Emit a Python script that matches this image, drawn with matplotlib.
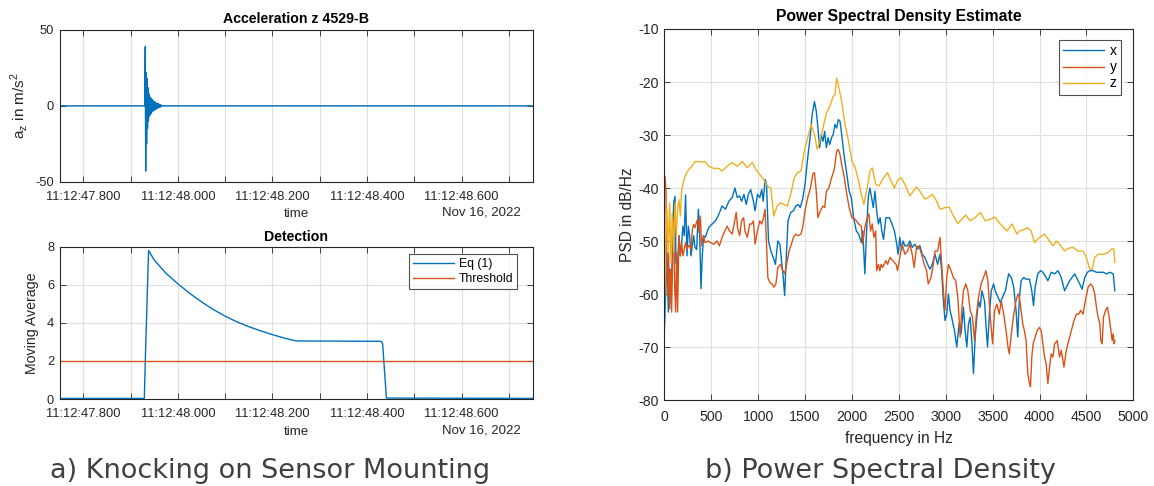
import numpy as np
import matplotlib
matplotlib.use('Agg')
import matplotlib.pyplot as plt
from matplotlib.ticker import FixedLocator

# ---- data -------------------------------------------------------------
# time axis (seconds after 11:12:00 on Nov 16, 2022)
t_start, t_end = 47.75, 48.75
time_ticks = [47.8, 47.9, 48.0, 48.1, 48.2, 48.3, 48.4, 48.5, 48.6, 48.7]

# z acceleration burst from the knock (m/s^2), sampled between 47.930 s and 47.966 s
burst_start, burst_end = 47.930, 47.966
burst_az = [0, 39, -43, 22, -25, 18, -15, 12, -10, 8, -7, 6, -6, 5, -5, 4.5, -4,
            4, -3.5, 3, -3, 3, -2.5, 2.5, -2, 2, -2, 1.5, -1.5, 1.5, -1.2, 1, -1,
            1, -0.8, 0.6, -0.5, 0.3, 0]

# moving average of Eq (1)
ma_time = [47.75, 47.929, 47.931, 47.938, 47.95, 47.975, 48.0, 48.025, 48.05,
           48.075, 48.1, 48.125, 48.15, 48.175, 48.2, 48.225, 48.25, 48.43,
           48.433, 48.441, 48.75]
ma_value = [0.03, 0.03, 2.0, 7.8, 7.3, 6.6, 6.05, 5.55, 5.1, 4.7, 4.35, 4.05,
            3.8, 3.58, 3.38, 3.2, 3.05, 3.03, 2.9, 0.05, 0.03]
threshold = 2.0

# PSD estimates (dB/Hz) for the three axes
freq_x = [0, 14, 28, 43, 57, 71, 85, 100, 114, 124, 139, 156, 171, 185, 199, 213,
          227, 242, 256, 270, 284, 299, 313, 327, 345, 363, 377, 391, 405, 419,
          437, 473, 509, 545, 581, 616, 652, 688, 724, 753, 778, 803, 824, 849,
          874, 896, 921, 950, 968, 993, 1018, 1039, 1054, 1075, 1090, 1111, 1136,
          1161, 1185, 1210, 1232, 1246, 1268, 1283, 1297, 1319, 1348, 1377, 1402,
          1428, 1449, 1475, 1500, 1529, 1558, 1576, 1601, 1620, 1638, 1656, 1674,
          1692, 1710, 1728, 1746, 1764, 1783, 1801, 1819, 1837, 1855, 1873, 1891,
          1920, 1946, 1971, 1993, 2018, 2047, 2072, 2101, 2116, 2138, 2152, 2174,
          2192, 2210, 2228, 2246, 2264, 2283, 2301, 2319, 2337, 2362, 2399, 2428,
          2453, 2478, 2493, 2511, 2529, 2546, 2564, 2593, 2618, 2643, 2671, 2700,
          2725, 2750, 2779, 2807, 2832, 2857, 2886, 2914, 2939, 2957, 2975, 2993,
          3011, 3029, 3046, 3064, 3093, 3118, 3143, 3164, 3189, 3207, 3225, 3243,
          3261, 3278, 3296, 3314, 3332, 3350, 3368, 3386, 3414, 3428, 3446, 3468,
          3486, 3511, 3528, 3557, 3582, 3607, 3636, 3671, 3700, 3725, 3750, 3768,
          3786, 3804, 3832, 3857, 3893, 3918, 3936, 3954, 3982, 4011, 4036, 4061,
          4089, 4125, 4161, 4196, 4232, 4268, 4296, 4321, 4346, 4375, 4404, 4429,
          4454, 4482, 4511, 4536, 4571, 4607, 4643, 4679, 4714, 4750, 4786, 4803]
psd_x = [-67.2, -60.3, -52.2, -63.4, -55.3, -61.6, -52.8, -42.8, -41.6, -54.0,
         -55.3, -49.0, -52.8, -50.3, -47.2, -49.0, -41.3, -52.8, -47.2, -49.0,
         -52.8, -50.9, -49.0, -51.2, -51.6, -44.0, -48.4, -59.0, -52.8, -49.0,
         -49.3, -47.5, -46.8, -46.2, -45.0, -43.4, -44.0, -42.5, -41.8, -40.0,
         -41.8, -41.5, -42.5, -41.2, -43.1, -41.2, -40.3, -42.5, -44.3, -41.2,
         -41.8, -40.3, -42.5, -38.4, -39.3, -50.0, -51.9, -53.1, -54.4, -50.0,
         -50.6, -53.1, -56.9, -60.3, -54.4, -46.2, -44.6, -44.3, -43.4, -43.1,
         -43.7, -42.1, -39.3, -34.3, -29.9, -26.2, -23.7, -25.5, -28.7, -32.4,
         -29.9, -31.2, -29.3, -32.4, -30.5, -31.8, -30.5, -29.9, -28.0, -28.7,
         -27.1, -27.4, -29.9, -34.3, -37.4, -40.6, -41.8, -45.6, -48.1, -48.7,
         -50.3, -48.1, -56.2, -50.0, -41.8, -40.0, -41.8, -43.7, -40.6, -44.3,
         -46.8, -45.6, -48.1, -49.7, -45.6, -45.6, -46.8, -48.1, -50.6, -52.5,
         -49.3, -51.8, -50.0, -50.9, -50.9, -50.0, -51.2, -50.6, -51.5, -50.9,
         -52.5, -53.1, -54.4, -55.3, -54.4, -52.5, -54.4, -52.5, -55.6, -61.3,
         -65.0, -63.8, -60.0, -63.1, -64.4, -66.9, -70.0, -65.6, -67.5, -62.5,
         -66.9, -70.0, -65.6, -64.4, -68.8, -75.0, -68.2, -64.4, -61.3, -62.5,
         -59.4, -61.3, -65.6, -70.0, -63.1, -59.4, -58.1, -59.4, -60.6, -61.6,
         -60.6, -59.4, -56.2, -56.9, -58.7, -63.1, -68.1, -60.6, -57.5, -56.9,
         -57.2, -57.2, -59.4, -62.2, -58.7, -56.2, -55.6, -55.9, -56.6, -57.5,
         -55.9, -56.2, -55.6, -56.9, -59.4, -58.4, -57.5, -56.9, -56.2, -57.2,
         -58.1, -59.1, -56.9, -55.9, -55.6, -55.6, -55.9, -55.9, -55.9, -56.2,
         -55.9, -56.2, -59.4]

freq_y = [0, 7, 18, 25, 36, 46, 57, 68, 78, 89, 100, 110, 121, 131, 142, 156, 171,
          185, 199, 213, 227, 242, 256, 270, 284, 299, 313, 327, 341, 355, 370,
          384, 398, 416, 434, 469, 491, 527, 563, 588, 616, 645, 670, 695, 724,
          753, 767, 781, 803, 824, 846, 860, 885, 910, 932, 950, 968, 993, 1018,
          1039, 1054, 1075, 1090, 1104, 1125, 1147, 1168, 1190, 1210, 1239, 1257,
          1283, 1304, 1330, 1355, 1377, 1402, 1428, 1457, 1475, 1500, 1529, 1558,
          1583, 1601, 1620, 1638, 1663, 1692, 1710, 1728, 1754, 1783, 1812, 1837,
          1855, 1873, 1891, 1920, 1946, 1971, 2000, 2036, 2072, 2101, 2116, 2138,
          2163, 2181, 2199, 2217, 2235, 2254, 2264, 2283, 2297, 2312, 2326, 2344,
          2362, 2380, 2406, 2435, 2471, 2486, 2511, 2536, 2564, 2593, 2618, 2643,
          2664, 2689, 2714, 2743, 2771, 2796, 2814, 2843, 2868, 2886, 2914, 2939,
          2957, 2975, 2993, 3011, 3029, 3057, 3082, 3107, 3129, 3154, 3171, 3189,
          3214, 3236, 3261, 3286, 3307, 3325, 3350, 3378, 3403, 3428, 3450, 3475,
          3500, 3521, 3546, 3571, 3593, 3618, 3643, 3664, 3678, 3700, 3725, 3750,
          3771, 3786, 3804, 3821, 3839, 3857, 3875, 3893, 3904, 3918, 3932, 3954,
          3975, 4000, 4018, 4036, 4054, 4071, 4089, 4107, 4125, 4143, 4161, 4189,
          4214, 4232, 4261, 4286, 4311, 4339, 4368, 4393, 4418, 4439, 4464, 4489,
          4518, 4546, 4571, 4589, 4607, 4625, 4643, 4654, 4668, 4682, 4704, 4725,
          4743, 4761, 4775, 4786, 4796, 4803]
psd_y = [-38.0, -37.8, -40.3, -55.3, -60.3, -52.2, -62.8, -55.3, -63.4, -52.8,
         -45.9, -58.4, -63.4, -52.2, -63.4, -49.0, -52.8, -50.3, -52.8, -51.6,
         -50.3, -51.6, -50.9, -50.9, -51.6, -47.8, -46.9, -47.5, -46.6, -45.9,
         -48.4, -45.3, -50.9, -49.0, -50.3, -50.0, -50.3, -50.6, -50.0, -50.9,
         -49.3, -48.1, -47.2, -48.1, -48.7, -45.9, -44.6, -47.5, -49.0, -46.2,
         -45.6, -48.1, -49.3, -46.8, -46.8, -46.2, -50.6, -48.1, -46.2, -46.8,
         -45.9, -44.0, -50.6, -56.9, -57.8, -58.1, -58.7, -58.1, -55.0, -54.4,
         -55.3, -56.2, -54.4, -51.9, -50.6, -49.3, -48.7, -49.0, -48.7, -47.5,
         -44.3, -41.8, -40.0, -37.4, -37.1, -40.6, -45.6, -44.3, -43.4, -43.7,
         -40.6, -40.0, -38.1, -36.5, -33.1, -32.7, -33.7, -35.6, -38.1, -41.2,
         -43.7, -45.6, -45.9, -46.8, -47.2, -50.6, -47.5, -45.6, -44.9, -48.1,
         -46.8, -49.3, -48.1, -55.6, -54.4, -55.6, -54.4, -55.0, -54.4, -53.7,
         -54.4, -53.1, -53.7, -54.4, -55.6, -53.1, -50.6, -52.5, -51.9, -50.6,
         -52.5, -55.0, -51.2, -50.9, -52.5, -54.4, -55.6, -58.1, -56.9, -54.4,
         -51.9, -51.9, -49.3, -54.4, -59.4, -63.1, -56.9, -54.4, -55.6, -56.9,
         -57.5, -60.6, -68.1, -63.1, -59.4, -58.1, -59.4, -63.1, -64.4, -68.8,
         -64.4, -60.6, -58.1, -56.9, -55.6, -57.5, -64.4, -69.4, -63.1, -61.9,
         -63.8, -61.3, -63.8, -66.9, -70.0, -71.3, -67.5, -63.8, -61.3, -60.0,
         -60.6, -63.1, -65.6, -66.9, -68.8, -75.0, -76.9, -77.5, -71.9, -69.4,
         -68.1, -66.9, -66.3, -66.9, -69.4, -71.9, -73.2, -76.9, -73.8, -71.3,
         -71.9, -69.4, -68.8, -71.9, -70.6, -73.8, -70.6, -68.8, -66.9, -65.0,
         -63.8, -63.8, -63.1, -63.8, -61.3, -58.7, -58.1, -58.7, -60.0, -62.5,
         -64.4, -65.6, -68.8, -69.4, -64.4, -63.1, -62.5, -64.4, -66.9, -68.8,
         -67.5, -69.4, -68.8]

freq_z = [0, 7, 18, 28, 43, 57, 71, 85, 100, 114, 128, 142, 156, 171, 185, 203,
          220, 238, 256, 294, 330, 401, 437, 473, 527, 581, 616, 670, 724, 778,
          831, 885, 939, 975, 1047, 1100, 1136, 1167, 1203, 1239, 1275, 1312,
          1348, 1384, 1420, 1457, 1493, 1529, 1565, 1601, 1630, 1656, 1692, 1728,
          1764, 1801, 1819, 1837, 1855, 1891, 1927, 1964, 2000, 2036, 2072, 2101,
          2127, 2163, 2192, 2217, 2254, 2290, 2326, 2380, 2417, 2453, 2493, 2529,
          2564, 2618, 2654, 2689, 2725, 2779, 2814, 2857, 2904, 2939, 2993, 3036,
          3082, 3129, 3171, 3214, 3261, 3314, 3368, 3421, 3475, 3528, 3582, 3653,
          3707, 3761, 3786, 3839, 3875, 3911, 3946, 4000, 4054, 4107, 4143, 4179,
          4214, 4268, 4304, 4357, 4411, 4464, 4500, 4536, 4561, 4589, 4625, 4679,
          4732, 4768, 4793, 4803]
psd_z = [-65.3, -55.3, -49.0, -44.0, -52.2, -42.8, -54.0, -44.7, -52.2, -42.8,
         -49.0, -44.0, -42.2, -45.3, -40.3, -39.0, -37.8, -37.2, -36.6, -35.9,
         -35.0, -35.1, -35.0, -35.9, -36.3, -36.3, -36.8, -35.9, -35.2, -35.9,
         -35.0, -36.2, -35.2, -36.5, -38.1, -39.6, -40.0, -45.3, -43.4, -42.8,
         -43.1, -43.4, -41.2, -38.1, -37.1, -36.8, -33.0, -30.5, -28.0, -29.9,
         -32.7, -31.2, -28.7, -25.9, -24.6, -22.7, -22.4, -19.3, -20.5, -23.7,
         -28.0, -31.2, -34.9, -36.2, -38.7, -41.2, -43.1, -40.0, -36.8, -36.2,
         -39.3, -39.6, -38.4, -37.1, -38.7, -40.0, -38.4, -38.1, -39.3, -41.5,
         -40.6, -39.8, -40.6, -42.1, -41.8, -41.2, -42.5, -44.0, -43.7, -43.6,
         -45.3, -46.7, -45.9, -45.1, -46.2, -45.6, -44.6, -46.2, -45.9, -45.5,
         -46.8, -48.1, -46.8, -48.7, -48.1, -47.8, -47.5, -48.1, -50.3, -49.3,
         -48.7, -50.0, -50.9, -50.0, -50.6, -51.9, -51.4, -51.2, -51.9, -51.9,
         -53.1, -55.3, -55.3, -53.1, -52.5, -52.5, -52.2, -51.5, -51.5, -54.0]

# ---- style ------------------------------------------------------------
BLUE, ORANGE, YELLOW = '#0072BD', '#D95319', '#EDB120'
TXT = '#262626'
GRID = '#dfdfdf'

plt.rcParams['font.family'] = ['Liberation Sans', 'DejaVu Sans']
plt.rcParams['axes.edgecolor'] = TXT
plt.rcParams['axes.linewidth'] = 0.8
plt.rcParams['axes.unicode_minus'] = False

W, H = 1154, 486
fig = plt.figure(figsize=(W / 100, H / 100), dpi=100)


def px_axes(left, top, right, bottom):
    return fig.add_axes([left / W, 1 - bottom / H, (right - left) / W, (bottom - top) / H])


def matlab_style(ax, size, xpad):
    ax.tick_params(direction='in', length=4, width=0.6, colors=TXT, labelsize=size,
                   top=True, right=True, pad=4)
    ax.tick_params(axis='x', pad=xpad)
    ax.grid(True, color=GRID, linewidth=0.8)
    ax.set_axisbelow(True)


def time_axis(ax):
    ax.set_xlim(t_start, t_end)
    ax.xaxis.set_major_locator(FixedLocator(time_ticks))
    labels = [f'11:12:{t:06.3f}' if i % 2 == 0 else '' for i, t in enumerate(time_ticks)]
    ax.set_xticklabels(labels)
    ax.set_xlabel('time', fontsize=9.6, color=TXT, labelpad=4)
    ax.text(0.9757, -0.206, 'Nov 16, 2022', transform=ax.transAxes, ha='right',
            va='center', fontsize=9.5, color=TXT)


# ---- a) acceleration ---------------------------------------------------
ax1 = px_axes(59.7, 30, 532.5, 181.7)
matlab_style(ax1, 9.3, 6.5)
t_acc = np.concatenate([[t_start], np.linspace(burst_start, burst_end, len(burst_az)), [t_end]])
a_acc = np.concatenate([[0], burst_az, [0]])
ax1.plot(t_acc, a_acc, color=BLUE, lw=1.0)
ax1.set_ylim(-50, 50)
ax1.set_yticks([-50, 0, 50])
time_axis(ax1)
ax1.set_ylabel('a$_\\mathregular{z}$ in m/s$^\\mathregular{2}$', fontsize=11, color=TXT, labelpad=4)
ax1.set_title('Acceleration z 4529-B', fontsize=10.2, fontweight='bold', color='black', pad=5)

# ---- a) detection ------------------------------------------------------
ax2 = px_axes(59.7, 246.7, 532.5, 399)
matlab_style(ax2, 9.3, 6.5)
ax2.plot(ma_time, ma_value, color=BLUE, lw=1.0, label='Eq (1)')
ax2.plot([t_start, t_end], [threshold, threshold], color=ORANGE, lw=1.0, label='Threshold')
ax2.set_ylim(0, 8)
ax2.set_yticks([0, 2, 4, 6, 8])
time_axis(ax2)
ax2.set_ylabel('Moving Average', fontsize=10.2, color=TXT, labelpad=6)
ax2.set_title('Detection', fontsize=10.2, fontweight='bold', color='black', pad=4)
leg = ax2.legend(loc='upper right', bbox_to_anchor=(0.968, 0.95), fontsize=8.8,
                 frameon=True, fancybox=False, edgecolor=TXT, handlelength=3.4,
                 borderpad=0.3, labelspacing=0.25, handletextpad=0.4, borderaxespad=0)
leg.get_frame().set_linewidth(0.8)

# ---- b) power spectral density ------------------------------------------
ax3 = px_axes(664.3, 29, 1133.3, 400)
matlab_style(ax3, 10.2, 7.5)
ax3.plot(freq_x, psd_x, color=BLUE, lw=1.0, label='x')
ax3.plot(freq_y, psd_y, color=ORANGE, lw=1.0, label='y')
ax3.plot(freq_z, psd_z, color=YELLOW, lw=1.0, label='z')
ax3.set_xlim(0, 5000)
ax3.set_ylim(-80, -10)
ax3.set_xticks(np.arange(0, 5001, 500))
ax3.set_yticks(np.arange(-80, -9, 10))
ax3.set_xlabel('frequency in Hz', fontsize=11.2, color=TXT, labelpad=5)
ax3.set_ylabel('PSD in dB/Hz', fontsize=11.2, color=TXT, labelpad=2)
ax3.set_title('Power Spectral Density Estimate', fontsize=11.3, fontweight='bold',
              color='black', pad=6)
leg = ax3.legend(loc='upper right', bbox_to_anchor=(0.974, 0.97), fontsize=10,
                 frameon=True, fancybox=False, edgecolor=TXT, handlelength=3.0,
                 borderpad=0.3, labelspacing=0.15, handletextpad=0.4, borderaxespad=0)
leg.get_frame().set_linewidth(0.8)

# ---- sub-figure captions ------------------------------------------------
fig.text(270 / W, 1 - 471 / H, 'a) Knocking on Sensor Mounting', ha='center', va='center',
         fontsize=19.5, color='#404040', family='DejaVu Sans')
fig.text(880 / W, 1 - 471 / H, 'b) Power Spectral Density', ha='center', va='center',
         fontsize=19.5, color='#404040', family='DejaVu Sans')

fig.savefig('out.png', dpi=100, facecolor='white')
